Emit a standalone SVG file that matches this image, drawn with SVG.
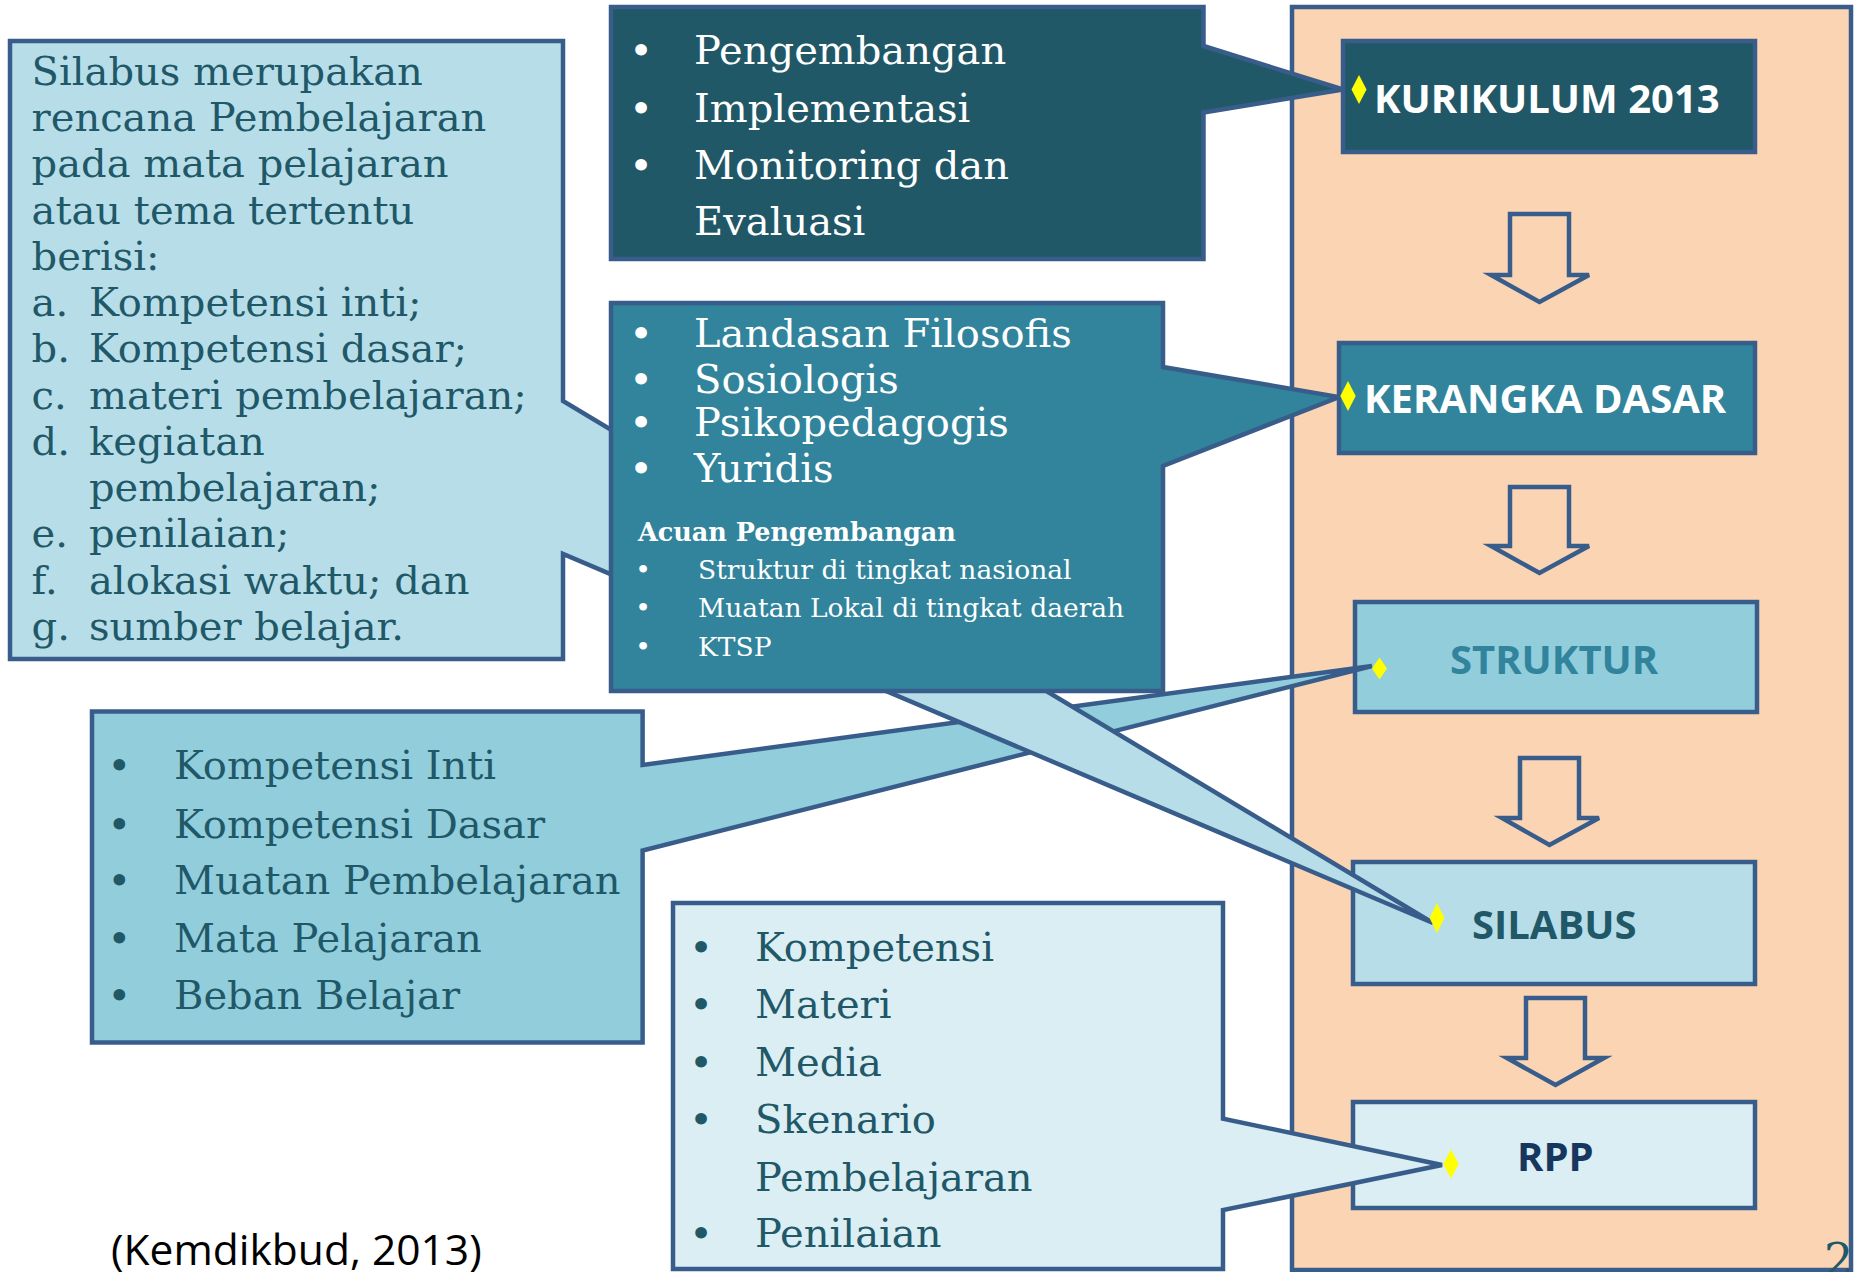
<svg xmlns="http://www.w3.org/2000/svg" width="1858" height="1272" viewBox="0 0 1858 1272">
<style>
.edge{stroke:#385D8A;stroke-width:4.5;stroke-linejoin:miter}
.s40{font-family:"DejaVu Serif",serif;font-size:40px}
.sub{font-family:"DejaVu Serif",serif;font-size:26.5px}
.head{font-family:"DejaVu Serif",serif;font-size:25.5px;font-weight:bold}
.lbl{font-family:"Open Sans","DejaVu Sans",sans-serif;font-size:40px;font-weight:bold}
.dark{fill:#215868}
.white{fill:#FFFFFF}
.bul{text-anchor:middle}
.dia{fill:#FFFF00}
</style>
<rect width="1858" height="1272" fill="#FFFFFF"/>
<g id="frame">
<rect class="edge" x="1292" y="7" width="559" height="1263" fill="#FBD4B4"/>
</g>
<g id="node-kurikulum">
<rect class="edge" x="1343" y="41" width="412" height="111" fill="#215868"/>
<text class="lbl white" x="1374" y="112.5" font-size="41">KURIKULUM 2013</text>
</g>
<g id="node-kerangka">
<rect class="edge" x="1339" y="343" width="416" height="110" fill="#31849B"/>
<text class="lbl white" x="1364" y="413">KERANGKA DASAR</text>
</g>
<g id="node-struktur">
<rect class="edge" x="1355" y="602" width="402" height="110" fill="#92CDDC"/>
<text class="lbl" x="1450" y="674" fill="#31849B">STRUKTUR</text>
</g>
<g id="node-silabus">
<rect class="edge" x="1353" y="862" width="402" height="122" fill="#B7DEE8"/>
<text class="lbl" x="1472" y="939" fill="#215868">SILABUS</text>
</g>
<g id="node-rpp">
<rect class="edge" x="1353" y="1102" width="402" height="106" fill="#DAEEF3"/>
<text class="lbl" x="1517" y="1171" fill="#17365D">RPP</text>
</g>
<g id="connectors" fill="#FBD4B4">
<path class="edge" d="M1510,214 H1569 V275 H1589 L1539.5,302 L1491,275 H1510 Z"/>
<path class="edge" d="M1510,487 H1569 V546 H1589 L1539.5,573 L1491,546 H1510 Z"/>
<path class="edge" d="M1520,758 H1579 V818 H1599 L1549.5,845 L1502,818 H1520 Z"/>
<path class="edge" d="M1526,998 H1585 V1058 H1604 L1555.5,1085 L1507,1058 H1526 Z"/>
</g>
<g id="callout-struktur">
<path class="edge" d="M92,711.5 H642.6 V765 L1372,666 L642.6,850.5 V1042.5 H92 Z" fill="#92CDDC"/>
<g class="s40 dark">
<text class="bul" x="119.4" y="779">•</text>
<text class="bul" x="119.4" y="837.6">•</text>
<text class="bul" x="119.4" y="894">•</text>
<text class="bul" x="119.4" y="952">•</text>
<text class="bul" x="119.4" y="1008.5">•</text>
<text x="174" y="779">Kompetensi Inti</text>
<text x="174" y="837.6">Kompetensi Dasar</text>
<text x="174" y="894">Muatan Pembelajaran</text>
<text x="174" y="952">Mata Pelajaran</text>
<text x="174" y="1008.5">Beban Belajar</text>
</g>
</g>
<g id="callout-silabus">
<path class="edge" d="M10,41 H563 V401 L1433,923 L563,554 V659 H10 Z" fill="#B7DEE8"/>
<g class="s40 dark">
<text x="31.6" y="84.6">Silabus merupakan</text>
<text x="31.6" y="131">rencana Pembelajaran</text>
<text x="31.6" y="177.3">pada mata pelajaran</text>
<text x="31.6" y="223.5">atau tema tertentu</text>
<text x="31.6" y="269.8">berisi:</text>
<text x="31.6" y="316">a.</text><text x="89" y="316">Kompetensi inti;</text>
<text x="31.6" y="362.4">b.</text><text x="89" y="362.4">Kompetensi dasar;</text>
<text x="31.6" y="408.6">c.</text><text x="89" y="408.6">materi pembelajaran;</text>
<text x="31.6" y="455">d.</text><text x="89" y="455">kegiatan</text>
<text x="89" y="501.2">pembelajaran;</text>
<text x="31.6" y="547.4">e.</text><text x="89" y="547.4">penilaian;</text>
<text x="31.6" y="593.7">f.</text><text x="89" y="593.7">alokasi waktu; dan</text>
<text x="31.6" y="640">g.</text><text x="89" y="640">sumber belajar.</text>
</g>
</g>
<g id="callout-kerangka">
<path class="edge" d="M611,303 H1163 V367 L1339,397 L1163,466 V691 H611 Z" fill="#31849B"/>
<g class="s40 white">
<text class="bul" x="641" y="346.5">•</text>
<text class="bul" x="641" y="392.5">•</text>
<text class="bul" x="641" y="436">•</text>
<text class="bul" x="641" y="482">•</text>
<text x="694" y="346.5">Landasan Filosofis</text>
<text x="694" y="392.5">Sosiologis</text>
<text x="694" y="436">Psikopedagogis</text>
<text x="694" y="482">Yuridis</text>
</g>
<text class="head white" x="638" y="541">Acuan Pengembangan</text>
<g class="sub white">
<text class="bul" x="643" y="579">•</text>
<text class="bul" x="643" y="617">•</text>
<text class="bul" x="643" y="655.5">•</text>
<text x="698" y="579">Struktur di tingkat nasional</text>
<text x="698" y="617">Muatan Lokal di tingkat daerah</text>
<text x="698" y="655.5">KTSP</text>
</g>
</g>
<g id="callout-kurikulum">
<path class="edge" d="M611,7 H1203.5 V46 L1343,89.5 L1203.5,112.5 V259 H611 Z" fill="#215868"/>
<g class="s40 white">
<text class="bul" x="641" y="64">•</text>
<text class="bul" x="641" y="122">•</text>
<text class="bul" x="641" y="179">•</text>
<text x="694" y="64">Pengembangan</text>
<text x="694" y="122">Implementasi</text>
<text x="694" y="179">Monitoring dan</text>
<text x="694" y="235">Evaluasi</text>
</g>
</g>
<g id="callout-rpp">
<path class="edge" d="M673,903 H1223 V1118.6 L1442,1165 L1223,1210 V1269 H673 Z" fill="#DAEEF3"/>
<g class="s40 dark">
<text class="bul" x="701" y="960.5">•</text>
<text class="bul" x="701" y="1018">•</text>
<text class="bul" x="701" y="1075.7">•</text>
<text class="bul" x="701" y="1133">•</text>
<text class="bul" x="701" y="1247">•</text>
<text x="755" y="960.5">Kompetensi</text>
<text x="755" y="1018">Materi</text>
<text x="755" y="1075.7">Media</text>
<text x="755" y="1133">Skenario</text>
<text x="755" y="1191">Pembelajaran</text>
<text x="755" y="1247">Penilaian</text>
</g>
</g>
<g id="diamonds">
<polygon class="dia" points="1359,75 1366.5,89.5 1359,104 1351.5,89.5"/>
<polygon class="dia" points="1348,381 1355.7,396 1348,411 1340.3,396"/>
<polygon class="dia" points="1379.5,657.6 1387,668.6 1379.5,679.6 1372,668.6"/>
<polygon class="dia" points="1437,903 1444.4,918 1437,933 1429.6,918"/>
<polygon class="dia" points="1451,1149.4 1458.7,1164 1451,1178.6 1443.3,1164"/>
</g>
<g id="captions">
<text x="111" y="1265" font-family="Open Sans, DejaVu Sans, sans-serif" font-size="42.5" fill="#000000">(Kemdikbud, 2013)</text>
<text x="1824" y="1276" font-family="DejaVu Serif, serif" font-size="46" fill="#215868">2</text>
</g>
</svg>
